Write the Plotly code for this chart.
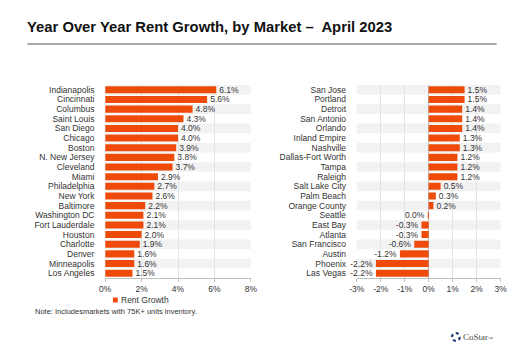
import plotly.graph_objects as go

left_markets = ["Indianapolis", "Cincinnati", "Columbus", "Saint Louis", "San Diego", "Chicago",
                "Boston", "N. New Jersey", "Cleveland", "Miami", "Philadelphia", "New York",
                "Baltimore", "Washington DC", "Fort Lauderdale", "Houston", "Charlotte",
                "Denver", "Minneapolis", "Los Angeles"]
left_growth = [6.1, 5.6, 4.8, 4.3, 4.0, 4.0, 3.9, 3.8, 3.7, 2.9, 2.7, 2.6, 2.2, 2.1, 2.1,
               2.0, 1.9, 1.6, 1.6, 1.5]

right_markets = ["San Jose", "Portland", "Detroit", "San Antonio", "Orlando", "Inland Empire",
                 "Nashville", "Dallas-Fort Worth", "Tampa", "Raleigh", "Salt Lake City",
                 "Palm Beach", "Orange County", "Seattle", "East Bay", "Atlanta",
                 "San Francisco", "Austin", "Phoenix", "Las Vegas"]
right_growth = [1.5, 1.5, 1.4, 1.4, 1.4, 1.3, 1.3, 1.2, 1.2, 1.2, 0.5, 0.3, 0.2, -0.03,
                -0.3, -0.3, -0.6, -1.2, -2.2, -2.2]

left_ticks = [0, 2, 4, 6, 8]
left_tick_text = ["0%", "2%", "4%", "6%", "8%"]
right_ticks = [-3, -2, -1, 0, 1, 2, 3]
right_tick_text = ["-3%", "-2%", "-1%", "0%", "1%", "2%", "3%"]
series_name = "Rent Growth"

BAR = "#EE4B0A"
TXT = "#333333"
FONT = "Liberation Sans, Arial, sans-serif"


def lab(v):
    r = round(v, 1)
    if r == 0:
        return "0.0%"
    return f"{r:.1f}%"


fig = go.Figure()
fig.add_trace(go.Bar(
    y=left_markets, x=left_growth, orientation="h", name=series_name,
    marker=dict(color=BAR, line=dict(width=0)),
    text=[lab(v) for v in left_growth], textposition="outside", cliponaxis=False,
    constraintext="none",
    textfont=dict(size=8.5, color=TXT, family=FONT),
    xaxis="x", yaxis="y", showlegend=False))
fig.add_trace(go.Bar(
    y=right_markets, x=right_growth, orientation="h", name=series_name,
    marker=dict(color=BAR, line=dict(width=0)),
    text=[lab(v) for v in right_growth], textposition="outside", cliponaxis=False,
    constraintext="none",
    textfont=dict(size=8.5, color=TXT, family=FONT),
    xaxis="x2", yaxis="y2", showlegend=False))

shapes = []
# alternating row stripes
for xr, yr, n in (("x", "y", len(left_markets)), ("x2", "y2", len(right_markets))):
    for i in range(0, n, 2):
        shapes.append(dict(type="rect", xref=f"{xr} domain", yref=yr,
                           x0=0, x1=1, y0=i - 0.5, y1=i + 0.5,
                           fillcolor="#F2F2F2", line=dict(width=0), layer="below"))
# title underline
shapes.append(dict(type="line", xref="paper", yref="paper",
                   x0=20 / 526, x1=503 / 526, y0=1 - 44 / 351, y1=1 - 44 / 351,
                   line=dict(color="#8C8C8C", width=1.5)))
# legend swatch
shapes.append(dict(type="rect", xref="paper", yref="paper",
                   x0=108 / 526, x1=113 / 526, y0=1 - 302.5 / 351, y1=1 - 297.5 / 351,
                   fillcolor=BAR, line=dict(width=0)))
# CoStar logo ring
shapes.append(dict(type="circle", xref="paper", yref="paper",
                   x0=457 / 526, x1=465 / 526, y0=1 - 341 / 351, y1=1 - 333 / 351,
                   line=dict(color="#1F3B73", width=2.2, dash="dot")))

axis_common = dict(showgrid=True, gridcolor="#E4E4E4", gridwidth=1,
                   showline=True, linecolor="#BFBFBF", linewidth=1,
                   ticks="outside", ticklen=3, tickcolor="#BFBFBF",
                   tickfont=dict(size=8.5, color=TXT, family=FONT),
                   tickmode="array", zeroline=False, fixedrange=True)
yaxis_common = dict(autorange="reversed", showgrid=False, showline=False,
                    ticks="outside", ticklen=8, tickcolor="rgba(0,0,0,0)",
                    tickfont=dict(size=8.5, color=TXT, family=FONT), fixedrange=True,
                    tickmode="array")

fig.update_layout(
    width=526, height=351, margin=dict(l=0, r=0, t=0, b=0),
    paper_bgcolor="white", plot_bgcolor="white",
    font=dict(family=FONT, color=TXT),
    bargap=0.27,
    showlegend=False,
    xaxis=dict(domain=[100 / 526, 250 / 526], range=[0, 8], tickvals=left_ticks,
               ticktext=left_tick_text, anchor="y", **axis_common),
    yaxis=dict(domain=[1 - 278 / 351, 1 - 85 / 351], anchor="x",
               tickvals=left_markets, ticktext=left_markets, **yaxis_common),
    xaxis2=dict(domain=[359 / 526, 507 / 526], range=[-3, 3], tickvals=right_ticks,
                ticktext=right_tick_text,
                anchor="y2", **{**axis_common, "zeroline": True,
                                "zerolinecolor": "#BFBFBF", "zerolinewidth": 1}),
    yaxis2=dict(domain=[1 - 278 / 351, 1 - 85 / 351], anchor="x2",
                tickvals=right_markets, ticktext=right_markets, **yaxis_common),
    shapes=shapes,
    annotations=[
        dict(text="<b>Year Over Year Rent Growth, by Market \u2013  April 2023</b>",
             xref="paper", yref="paper", x=18 / 526, y=1 - 27 / 351,
             xanchor="left", yanchor="middle", showarrow=False,
             font=dict(size=14.8, color="#111111", family=FONT)),
        dict(text=series_name,
             xref="paper", yref="paper", x=114 / 526, y=1 - 300 / 351,
             xanchor="left", yanchor="middle", showarrow=False,
             font=dict(size=8.5, color=TXT, family=FONT)),
        dict(text="Note: Includesmarkets with 75K+ units inventory.",
             xref="paper", yref="paper", x=26 / 526, y=1 - 311 / 351,
             xanchor="left", yanchor="middle", showarrow=False,
             font=dict(size=7.5, color=TXT, family=FONT)),
        dict(text="CoStar<span style='font-size:5px'>\u2122</span>",
             xref="paper", yref="paper", x=466 / 526, y=1 - 337 / 351,
             xanchor="left", yanchor="middle", showarrow=False,
             font=dict(size=9, color="#4A4A4A", family="Liberation Serif, Times New Roman, serif")),
    ],
)

fig.write_html("out.html")
